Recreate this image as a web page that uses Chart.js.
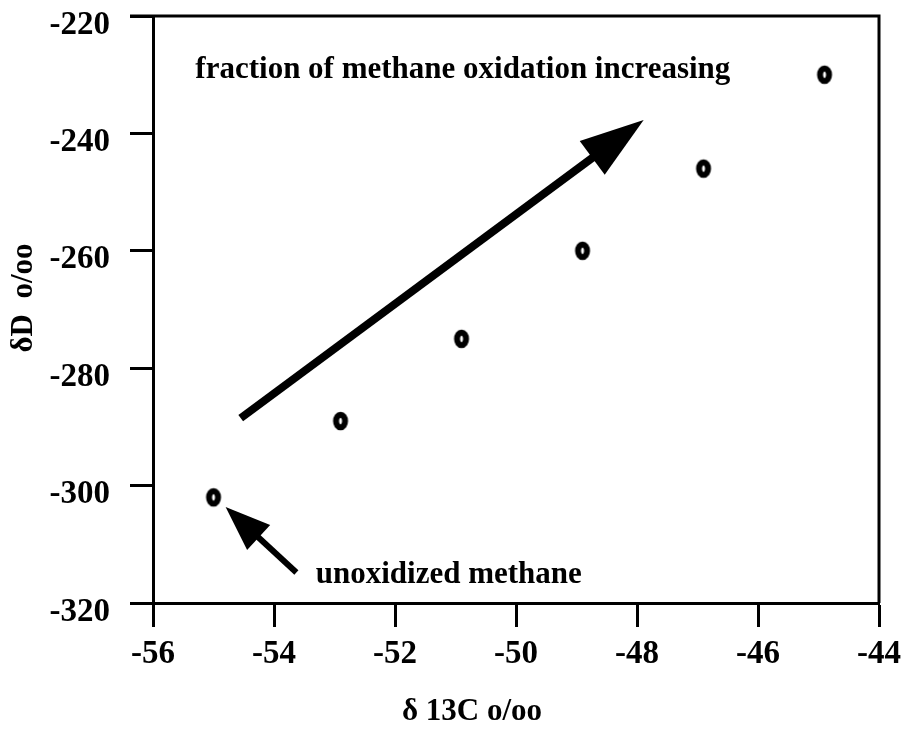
<!DOCTYPE html>
<html>
<head>
<meta charset="utf-8">
<script src="https://cdn.jsdelivr.net/npm/chart.js@4"></script>
<style>
  html,body{margin:0;padding:0;background:#fff;}
  #wrap{width:909px;height:732px;}
</style>
</head>
<body>
<div id="wrap"><canvas id="c" width="909" height="732"></canvas></div>
<script>
// values (delta 13C, delta D)
const d13C = [-55.0, -52.9, -50.9, -48.9, -46.9, -44.9];
const dD = [-302, -289, -275, -260, -246, -230];
const xTicks = [-56, -54, -52, -50, -48, -46, -44];
const yTicks = [-320, -300, -280, -260, -240, -220];

// annotation anchors, in data units
const bigArrow = {from: [-54.55, -288.5], to: [-47.89, -237.7]};
const smallArrow = {from: [-53.63, -314.8], to: [-54.8, -303.65]};
const noteTop = {text: 'fraction of methane oxidation increasing', at: [-55.3, -229.2]};
const noteBottom = {text: 'unoxidized methane', at: [-53.31, -315.2]};

const SERIF = '"Liberation Serif", "Times New Roman", serif';

function makeMarker(){
  const c = document.createElement('canvas'); c.width = 20; c.height = 24;
  const g = c.getContext('2d');
  g.strokeStyle = '#000'; g.lineWidth = 6;
  g.beginPath(); g.ellipse(10, 12, 4.5, 6.3, 0, 0, Math.PI*2); g.stroke();
  return c;
}

function arrow(ctx, x1, y1, x2, y2, w, headLen, headHalf){
  const a = Math.atan2(y2-y1, x2-x1);
  const bx = x2 - Math.cos(a)*headLen, by = y2 - Math.sin(a)*headLen;
  ctx.save();
  ctx.strokeStyle = '#000'; ctx.fillStyle = '#000';
  ctx.lineWidth = w; ctx.lineCap = 'butt';
  ctx.beginPath(); ctx.moveTo(x1, y1); ctx.lineTo(bx + Math.cos(a)*2, by + Math.sin(a)*2); ctx.stroke();
  ctx.beginPath();
  ctx.moveTo(x2, y2);
  ctx.lineTo(bx + Math.sin(a)*headHalf, by - Math.cos(a)*headHalf);
  ctx.lineTo(bx - Math.sin(a)*headHalf, by + Math.cos(a)*headHalf);
  ctx.closePath(); ctx.fill();
  ctx.restore();
}

const extras = {
  id: 'extras',
  afterDraw(chart){
    const {ctx, chartArea: ca, scales: {x, y}} = chart;
    const px = p => [x.getPixelForValue(p[0]), y.getPixelForValue(p[1])];
    ctx.save();
    // top and right frame
    ctx.strokeStyle = '#000'; ctx.lineWidth = 3;
    ctx.beginPath();
    ctx.moveTo(ca.left - 23, ca.top); ctx.lineTo(ca.right, ca.top); ctx.lineTo(ca.right, ca.bottom);
    ctx.stroke();

    const b1 = px(bigArrow.from), b2 = px(bigArrow.to);
    arrow(ctx, b1[0], b1[1], b2[0], b2[1], 8, 64, 21);
    const s1 = px(smallArrow.from), s2 = px(smallArrow.to);
    arrow(ctx, s1[0], s1[1], s2[0], s2[1], 6, 45, 17);

    ctx.fillStyle = '#000';
    ctx.font = 'bold 31px ' + SERIF;
    ctx.textAlign = 'left'; ctx.textBaseline = 'middle';
    let p = px(noteTop.at); ctx.fillText(noteTop.text, p[0], p[1]);
    p = px(noteBottom.at); ctx.fillText(noteBottom.text, p[0], p[1]);

    // axis titles
    ctx.textAlign = 'center';
    ctx.fillText('δ 13C o/oo', 472, 712);
    ctx.translate(24, 298); ctx.rotate(-Math.PI/2);
    ctx.fillText('δD  o/oo', 0, 0);
    ctx.restore();
  }
};

const tickFont = {family: SERIF, size: 33, weight: 'bold'};

new Chart(document.getElementById('c'), {
  type: 'scatter',
  data: {
    datasets: [{
      data: d13C.map((v, i) => ({x: v, y: dD[i]})),
      pointStyle: makeMarker(),
      pointRadius: 8
    }]
  },
  options: {
    responsive: false,
    animation: false,
    layout: {padding: {top: 16, right: 29, left: 0, bottom: 0}},
    plugins: {legend: {display: false}, tooltip: {enabled: false}},
    scales: {
      x: {
        type: 'linear', min: -56, max: -44,
        afterBuildTicks: s => { s.ticks = xTicks.map(v => ({value: v})); },
        afterFit: s => { s.height = 129; },
        ticks: {font: tickFont, color: '#000', padding: 8, maxRotation: 0},
        grid: {drawOnChartArea: false, tickLength: 24, tickWidth: 3, tickColor: '#000'},
        border: {color: '#000', width: 3}
      },
      y: {
        type: 'linear', min: -320, max: -220,
        afterBuildTicks: s => { s.ticks = yTicks.map(v => ({value: v})); },
        afterFit: s => { s.width = 153; s.paddingTop = 0; s.paddingBottom = 0; },
        ticks: {font: tickFont, color: '#000', padding: 20, labelOffset: 9},
        grid: {drawOnChartArea: false, tickLength: 23, tickWidth: 3, tickColor: '#000'},
        border: {color: '#000', width: 3}
      }
    }
  },
  plugins: [extras]
});
</script>
</body>
</html>
